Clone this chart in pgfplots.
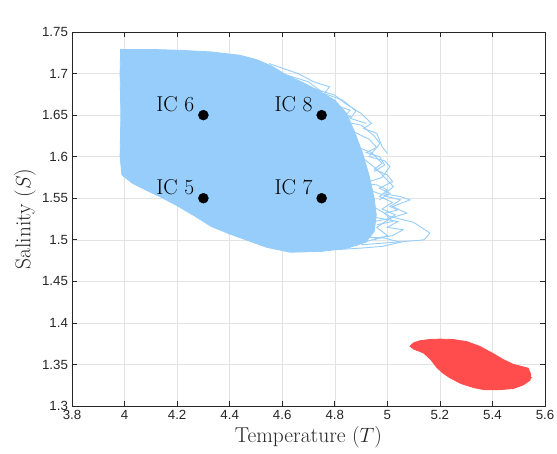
\documentclass[border=0pt]{standalone}
\usepackage{pgfplots}
\pgfplotsset{compat=1.18}
\usepackage{fontspec}
\newfontfamily\arial{Liberation Sans}
\definecolor{lblue}{RGB}{150,205,250}
\definecolor{lred}{RGB}{255,77,77}
\definecolor{axgray}{RGB}{38,38,38}
\begin{document}
\begin{tikzpicture}
\begin{axis}[
  scale only axis, width=473pt, height=374pt,
  xmin=3.8, xmax=5.6, ymin=1.3, ymax=1.75,
  xtick={3.8,4,4.2,4.4,4.6,4.8,5,5.2,5.4,5.6},
  ytick={1.3,1.35,1.4,1.45,1.5,1.55,1.6,1.65,1.7,1.75},
  grid=major, major grid style={gray!22, line width=0.5pt},
  axis line style={axgray, line width=0.6pt},
  tick style={axgray, line width=0.6pt}, tick align=inside, major tick length=5pt,
  ticklabel style={font=\arial\fontsize{13.3}{15}\selectfont, text=axgray},
  xticklabel style={yshift=-1pt},
  yticklabel style={xshift=-0.5pt},
  /pgf/number format/assume math mode=true,
  xlabel={Temperature ($T$)}, ylabel={Salinity ($S$)},
  every axis x label/.style={at={(axis description cs:0.5,-0.0963)}, anchor=base, font=\fontsize{21.5}{24}\selectfont, text=axgray},
  every axis y label/.style={at={(axis description cs:-0.0880,0.5)}, rotate=90, anchor=base, font=\fontsize{21.5}{24}\selectfont, text=axgray},
]
% blue solid region
\addplot[draw=lblue, fill=lblue, line width=0.8pt] coordinates {
(3.985,1.729) (4.10,1.729) (4.211,1.728) (4.33,1.726) (4.439,1.722) (4.50,1.717)
(4.56,1.709) (4.617,1.698) (4.68,1.689) (4.74,1.679) (4.80,1.668) (4.845,1.652)
(4.875,1.630) (4.905,1.605) (4.93,1.578) (4.95,1.550) (4.958,1.530) (4.95,1.510)
(4.92,1.498) (4.85,1.490) (4.75,1.486) (4.63,1.485) (4.54,1.491) (4.47,1.499)
(4.40,1.507) (4.33,1.516) (4.27,1.528) (4.20,1.541) (4.14,1.551) (4.08,1.560)
(4.03,1.568) (3.99,1.578) (3.983,1.60) (3.986,1.65) (3.983,1.70) (3.985,1.729)} -- cycle;
% blue trajectory outlines
\addplot[lblue, line width=0.9pt] coordinates {(4.60,1.700) (4.70,1.690) (4.75,1.678) (4.72,1.668) (4.80,1.662) (4.858,1.656) (4.83,1.645) (4.80,1.640)};
\addplot[lblue, line width=0.9pt] coordinates {(4.78,1.660) (4.86,1.648) (4.82,1.643) (4.90,1.638) (4.95,1.625) (4.972,1.616) (4.93,1.600) (4.99,1.595) (5.01,1.588) (4.98,1.575) (4.93,1.570)};
\addplot[lblue, line width=0.9pt] coordinates {(4.86,1.632) (4.93,1.621) (4.96,1.611) (4.92,1.605) (4.97,1.600) (4.99,1.590) (4.95,1.582)};
\addplot[lblue, line width=0.9pt] coordinates {(4.90,1.600) (4.96,1.585) (5.023,1.564) (4.99,1.555) (5.05,1.552) (5.086,1.548) (5.02,1.540) (5.074,1.532) (5.00,1.525) (4.95,1.522)};
\addplot[lblue, line width=0.9pt] coordinates {(4.92,1.545) (5.01,1.528) (5.10,1.521) (5.162,1.508) (5.14,1.500) (5.11,1.499) (4.985,1.496) (4.90,1.494)};
\addplot[lblue, line width=0.9pt] coordinates {(4.85,1.570) (4.96,1.566) (5.00,1.560) (4.97,1.552) (5.02,1.545) (4.98,1.537) (5.03,1.530) (4.96,1.515) (5.00,1.505) (4.95,1.500)};
\addplot[lblue, line width=0.9pt] coordinates {(4.70,1.684) (4.80,1.674) (4.84,1.664) (4.90,1.652) (4.94,1.640) (4.91,1.634) (4.96,1.628) (4.98,1.612) (5.00,1.604)};
\addplot[lblue, line width=0.9pt] coordinates {(4.55,1.712) (4.66,1.700) (4.72,1.690) (4.78,1.684) (4.76,1.676) (4.83,1.668) (4.88,1.655) (4.86,1.646) (4.92,1.640)};
\addplot[lblue, line width=0.9pt] coordinates {(4.88,1.612) (4.94,1.605) (4.98,1.592) (4.95,1.585) (5.00,1.578) (5.02,1.570) (4.97,1.562) (5.01,1.556) (4.97,1.548)};
\addplot[lblue, line width=0.9pt] coordinates {(4.90,1.530) (4.97,1.526) (5.04,1.522) (5.00,1.515) (5.06,1.512) (5.02,1.505) (4.96,1.502) (4.88,1.493)};
\addplot[lblue, line width=0.9pt] coordinates {(4.93,1.560) (5.00,1.552) (5.05,1.548) (5.01,1.540) (5.04,1.536) (4.99,1.532) (5.02,1.522) (4.96,1.518)};
\addplot[lblue, line width=0.9pt] coordinates {(4.80,1.488) (4.90,1.490) (4.98,1.492) (5.05,1.497) (4.99,1.502) (4.93,1.503)};
% red region
\addplot[draw=lred, fill=lred, line width=0.8pt] coordinates {
(5.086,1.372) (5.10,1.376) (5.124,1.3785) (5.16,1.380) (5.200,1.3805) (5.25,1.380)
(5.302,1.3775) (5.35,1.372) (5.403,1.363) (5.44,1.356) (5.48,1.350) (5.536,1.3455)
(5.546,1.338) (5.543,1.331) (5.518,1.3255) (5.48,1.321) (5.42,1.3195) (5.37,1.3195)
(5.33,1.322) (5.28,1.327) (5.238,1.334) (5.21,1.340) (5.188,1.3465) (5.165,1.356)
(5.137,1.364) (5.10,1.3685) (5.086,1.372)} -- cycle;
\addplot[lred, line width=0.9pt] coordinates {(5.45,1.347) (5.53,1.344) (5.50,1.339) (5.548,1.334) (5.50,1.328) (5.46,1.326)};
% initial conditions
\addplot[only marks, mark=*, mark size=5pt, black] coordinates {(4.3,1.55) (4.3,1.65) (4.75,1.55) (4.75,1.65)};
\node[anchor=base east, inner sep=0pt, font=\fontsize{21.5}{24}\selectfont] at (axis cs:4.3,1.55) [xshift=-9pt, yshift=3.4pt] {IC 5};
\node[anchor=base east, inner sep=0pt, font=\fontsize{21.5}{24}\selectfont] at (axis cs:4.3,1.65) [xshift=-9pt, yshift=3.4pt] {IC 6};
\node[anchor=base east, inner sep=0pt, font=\fontsize{21.5}{24}\selectfont] at (axis cs:4.75,1.55) [xshift=-9pt, yshift=3.4pt] {IC 7};
\node[anchor=base east, inner sep=0pt, font=\fontsize{21.5}{24}\selectfont] at (axis cs:4.75,1.65) [xshift=-9pt, yshift=3.4pt] {IC 8};
% exponent label
\node[anchor=base west, inner sep=0pt, font=\arial\fontsize{13.3}{15}\selectfont, text=axgray] at (axis description cs:0,1) [yshift=4pt] {×10\raisebox{0.55em}{\fontsize{11}{11}\selectfont -3}};
\end{axis}
\pgfresetboundingbox
\path (-72pt,-48pt) rectangle (485pt,406pt);
\end{tikzpicture}
\end{document}
